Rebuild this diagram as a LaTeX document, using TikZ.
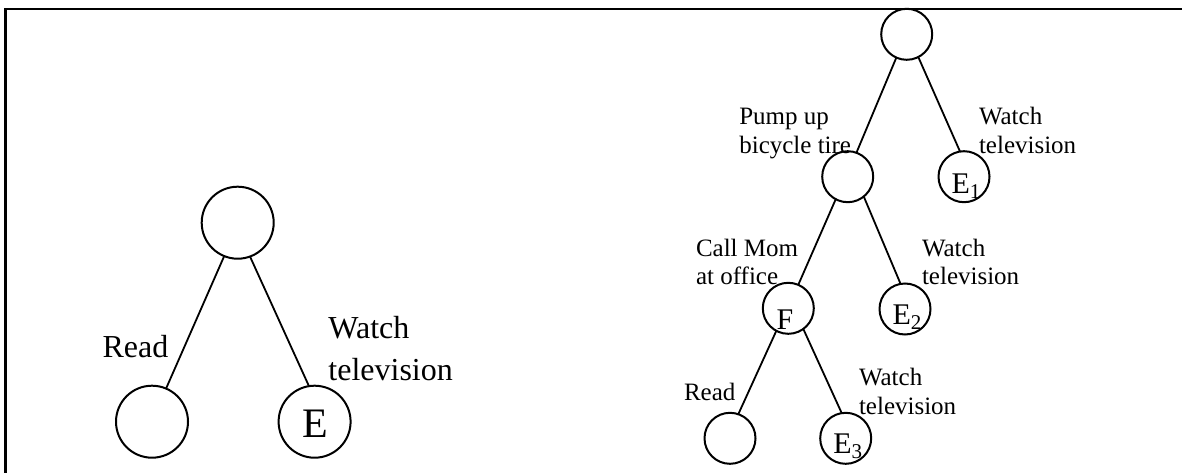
\documentclass[tikz,border=0pt]{standalone}
\usepackage{fontspec}
\setmainfont{Liberation Serif}
\newcommand{\inl}[3]{\makebox[0pt][l]{\hspace*{#1}\raisebox{#2}[0pt][0pt]{#3}}}
\tikzset{
  vtx/.style={circle, draw, line width=2pt, inner sep=0pt, outer sep=0pt},
  bignode/.style={vtx, minimum size=72pt, font=\fontsize{42}{48}\selectfont},
  smnode/.style={vtx, minimum size=51pt, font=\fontsize{30}{36}\selectfont},
  edge/.style={line width=1.8pt},
  lbl/.style={anchor=base west, inner sep=0pt, outer sep=0pt, align=left},
  bigtxt/.style={lbl, font=\fontsize{32}{42}\selectfont},
  smtxt/.style={lbl, font=\fontsize{25}{28.8}\selectfont},
}
\begin{document}
\begin{tikzpicture}[x=1pt, y=-1pt]
\useasboundingbox (0,0) rectangle (1182,473);
% frame
\coordinate (fa) at (1190,8.8);
\coordinate (fb) at (5.3,8.8);
\coordinate (fc) at (5.3,480);
\draw[line width=2.5pt] (fa) -- (fb) -- (fc);

% left tree
\node[bignode] (lroot) at (237.7,222.7) {};
\node[bignode] (lbl) at (152,421.7) {};
\node[bignode] (le) at (314.6,421.7) {\inl{-12.6pt}{-15.3pt}{E}};
\draw[edge] (lroot.248) -- (lbl.67);
\draw[edge] (lroot.290) -- (le.99);
\node[bigtxt] (tread) at (102.6,357.7) {Read};
\node[bigtxt] (twatch) at (328.4,380) {Watch\\television};

% right tree
\node[smnode] (r0) at (906.7,34.3) {};
\node[smnode] (r1) at (847.7,176.7) {};
\node[smnode] (e1) at (964,176.7) {\inl{-12.4pt}{-16.5pt}{E\textsubscript{1}}};
\node[smnode] (f) at (788.3,308.3) {\inl{-11.6pt}{-21pt}{F}};
\node[smnode] (e2) at (905,309) {\inl{-12.4pt}{-15pt}{E\textsubscript{2}}};
\node[smnode] (rb) at (730,438.3) {};
\node[smnode] (e3) at (845.7,438.3) {\inl{-12.4pt}{-15pt}{E\textsubscript{3}}};

\draw[edge] (r0.246) -- (r1.70);
\draw[edge] (r0.297) -- (e1.99);
\draw[edge] (r1.242) -- (f.67);
\draw[edge] (r1.309) -- (e2.100);
\draw[edge] (f.242) -- (rb.71);
\draw[edge] (f.306) -- (e3.99.5);

\node[smtxt] (tpump) at (739.3,153.2) {Pump up\\bicycle tire};
\node[smtxt] (tw1) at (979,153.8) {Watch\\television};
\node[smtxt] (tcall) at (696,284.8) {Call Mom\\at office};
\node[smtxt] (tw2) at (922,284.8) {Watch\\television};
\node[smtxt] (tread2) at (684,400) {Read};
\node[smtxt] (tw3) at (859,414.5) {Watch\\television};
\end{tikzpicture}
\end{document}
